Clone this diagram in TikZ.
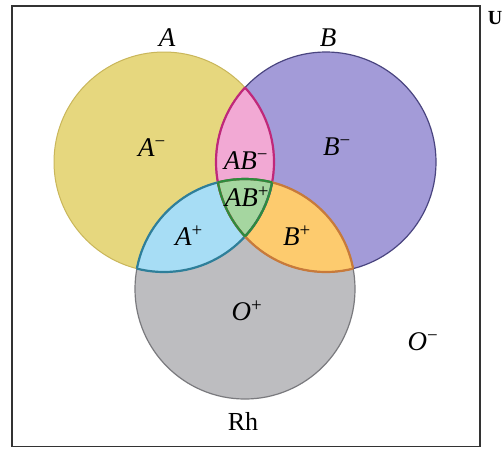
\documentclass[tikz,border=0pt]{standalone}
\usepackage{fontspec}
\setmainfont{Liberation Serif}
\definecolor{cA}{HTML}{E6D77E}
\definecolor{cAo}{HTML}{C9B65A}
\definecolor{cB}{HTML}{A39BD8}
\definecolor{cBo}{HTML}{4A4580}
\definecolor{cR}{HTML}{BDBDC0}
\definecolor{cRo}{HTML}{7A7A7E}
\definecolor{cAp}{HTML}{A7DDF5}
\definecolor{cApo}{HTML}{2E7F9A}
\definecolor{cBp}{HTML}{FDCB6E}
\definecolor{cBpo}{HTML}{C87A3A}
\definecolor{cABp}{HTML}{A5D6A0}
\definecolor{cABpo}{HTML}{2E8B3E}
\definecolor{cABm}{HTML}{F2A9D4}
\definecolor{cABmo}{HTML}{C0287A}
\newcommand{\cirA}{(164,162) circle[radius=110]}
\newcommand{\cirB}{(326,162) circle[radius=110]}
\newcommand{\cirR}{(245,289) circle[radius=110]}
\tikzset{lbl/.style={font=\fontsize{27}{27}\selectfont\itshape, inner sep=0pt}}
\newcommand{\supminus}{\textsuperscript{\upshape −}}
\newcommand{\supplus}{\textsuperscript{\upshape +}}
\begin{document}
\begin{tikzpicture}[x=1pt,y=-1pt]
\useasboundingbox (0,0) rectangle (503,448);
\fill[white] (0,0) rectangle (503,448);
% base fills
\fill[cA] \cirA;
\fill[cB] \cirB;
\fill[cR] \cirR;
\begin{scope}\clip \cirA; \fill[cABm] \cirB; \end{scope}
\begin{scope}\clip \cirA; \fill[cAp] \cirR; \end{scope}
\begin{scope}\clip \cirB; \fill[cBp] \cirR; \end{scope}
\begin{scope}\clip \cirA; \clip \cirB; \fill[cABp] \cirR; \end{scope}
% outer outlines
\draw[cAo, line width=1pt] \cirA;
\draw[cBo, line width=1.2pt] \cirB;
\draw[cRo, line width=1.2pt] \cirR;
% region outlines
\begin{scope}\clip \cirA; \draw[cABmo, line width=2.2pt] \cirB; \end{scope}
\begin{scope}\clip \cirB; \draw[cABmo, line width=2.2pt] \cirA; \end{scope}
\begin{scope}\clip \cirA; \draw[cApo, line width=2.2pt] \cirR; \end{scope}
\begin{scope}\clip \cirR; \draw[cApo, line width=2.2pt] \cirA; \end{scope}
\begin{scope}\clip \cirB; \draw[cBpo, line width=2.2pt] \cirR; \end{scope}
\begin{scope}\clip \cirR; \draw[cBpo, line width=2.2pt] \cirB; \end{scope}
\begin{scope}\clip \cirA; \clip \cirB; \draw[cABpo, line width=2.2pt] \cirR; \end{scope}
\begin{scope}\clip \cirA; \clip \cirR; \draw[cABpo, line width=2.2pt] \cirB; \end{scope}
\begin{scope}\clip \cirB; \clip \cirR; \draw[cABpo, line width=2.2pt] \cirA; \end{scope}
% frame
\draw[black!80, line width=1.3pt] (12,6) rectangle (480,446.5);
% labels
\node[lbl] (lA) at (167,38) {A};
\node[lbl] (lB) at (328,38) {B};
\node[lbl] (lAm) at (152,148) {A\supminus};
\node[lbl] (lBm) at (337,147) {B\supminus};
\node[lbl] (lABm) at (246,161) {AB\supminus};
\node[lbl] (lABp) at (247,197) {AB\supplus};
\node[lbl] (lAp) at (189,236) {A\supplus};
\node[lbl] (lBp) at (297,236) {B\supplus};
\node[lbl] (lOp) at (247,311) {O\supplus};
\node[lbl] (lOm) at (423,342) {O\supminus};
\node[font=\fontsize{26}{26}\selectfont, inner sep=0pt] (lRh) at (243,421) {Rh};
\node[font=\fontsize{20}{20}\selectfont\bfseries, inner sep=0pt] (lU) at (495,18) {U};
\end{tikzpicture}
\end{document}
